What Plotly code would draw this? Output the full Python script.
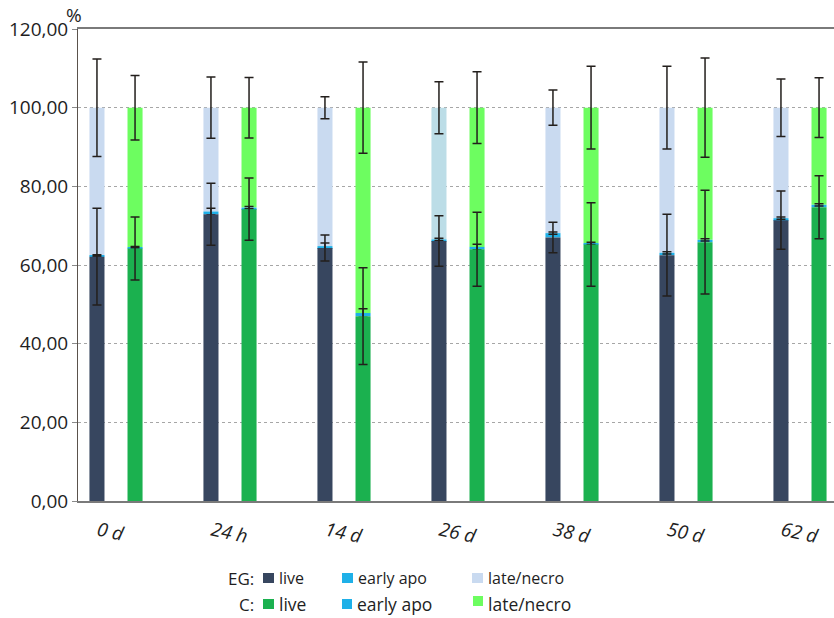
import plotly.graph_objects as go

# Time points
categories = ["0 d", "24 h", "14 d", "26 d", "38 d", "50 d", "62 d"]

# EG group (%)
eg_live = [62.1, 72.9, 64.3, 66.1, 67.0, 62.5, 71.4]
eg_early = [0.3, 0.7, 0.5, 0.4, 1.1, 0.6, 0.5]
eg_late = [37.6, 26.4, 35.2, 33.5, 31.9, 36.9, 28.1]
eg_live_sd = [12.3, 7.9, 3.3, 6.4, 3.9, 10.4, 7.4]
eg_early_sd = [0.2, 0.8, 0.8, 0.3, 0.3, 0.3, 0.3]
eg_late_sd = [12.4, 7.8, 2.8, 6.6, 4.5, 10.5, 7.3]

# C group (%)
c_live = [64.2, 74.2, 47.0, 64.0, 65.2, 65.8, 74.7]
c_early = [0.3, 0.4, 0.8, 0.6, 0.3, 0.6, 0.6]
c_late = [35.5, 25.4, 52.2, 35.4, 34.5, 33.6, 24.7]
c_live_sd = [8.0, 7.9, 12.3, 9.4, 10.6, 13.2, 8.0]
c_early_sd = [0.2, 0.3, 1.1, 0.7, 0.3, 0.3, 0.3]
c_late_sd = [8.2, 7.7, 11.6, 9.1, 10.5, 12.6, 7.6]

y_ticks = [0, 20, 40, 60, 80, 100, 120]

# Colours
EG_LIVE = "#37465f"
EARLY = "#1fb0e8"
EG_LATE = "#c9daf0"
EG_LATE_26 = "#bcdde7"
C_LIVE = "#1bb14f"
C_LATE = "#6dfd60"
ERR = "#231f1c"
TXT = "#1e1e1e"

FONT = "Open Sans"
BAR_W = 0.132
EG_OFF = -0.167 - BAR_W / 2
C_OFF = 0.167 - BAR_W / 2

eg_late_colors = [EG_LATE_26 if c == "26 d" else EG_LATE for c in categories]


def err(arr):
    return dict(type="data", array=arr, visible=True, color=ERR,
                thickness=1.5, width=4.5)


def add_stack(fig, live, early, late, live_sd, early_sd, late_sd,
              live_col, late_col, offset, name):
    base_early = [a for a in live]
    base_late = [a + b for a, b in zip(live, early)]
    # drawn top-down so the live error bars stay visible over the upper segments
    fig.add_trace(go.Bar(x=categories, y=late, base=base_late, offset=offset,
                         width=BAR_W, marker=dict(color=late_col, line_width=0),
                         error_y=err(late_sd), name=name + " late/necro",
                         showlegend=False))
    fig.add_trace(go.Bar(x=categories, y=early, base=base_early, offset=offset,
                         width=BAR_W, marker=dict(color=EARLY, line_width=0),
                         error_y=err(early_sd), name=name + " early apo",
                         showlegend=False))
    fig.add_trace(go.Bar(x=categories, y=live, offset=offset,
                         width=BAR_W, marker=dict(color=live_col, line_width=0),
                         error_y=err(live_sd), name=name + " live",
                         showlegend=False))


fig = go.Figure()
add_stack(fig, eg_live, eg_early, eg_late, eg_live_sd, eg_early_sd, eg_late_sd,
          EG_LIVE, eg_late_colors, EG_OFF, "EG")
add_stack(fig, c_live, c_early, c_late, c_live_sd, c_early_sd, c_late_sd,
          C_LIVE, C_LATE, C_OFF, "C")

W, H = 834, 618
L, R, T, B = 78, 0, 29, 117
PW, PH = W - L - R, H - T - B


def px(x):
    return (x - L) / PW


def py(y):
    return (H - B - y) / PH


shapes = []
annotations = []

# Custom two-row key
key_rows = [
    ("EG:", 578, 16, [(263, 274, 573, 583, EG_LIVE, "live"),
                      (342, 353, 573, 583, EARLY, "early apo"),
                      (472, 483, 573, 583, EG_LATE, "late/necro")]),
    ("C:", 604, 17.5, [(263, 274, 599, 609, C_LIVE, "live"),
                       (342, 352, 599, 609, EARLY, "early apo"),
                       (473, 483, 596, 606, C_LATE, "late/necro")]),
]
for title, yc, fs, items in key_rows:
    annotations.append(dict(x=px(256), y=py(yc), xref="paper", yref="paper",
                            text=title, showarrow=False, xanchor="right",
                            yanchor="middle",
                            font=dict(family=FONT, size=17, color=TXT)))
    for x0, x1, y0, y1, col, lab in items:
        shapes.append(dict(type="rect", xref="paper", yref="paper",
                           x0=px(x0), x1=px(x1), y0=py(y1), y1=py(y0),
                           fillcolor=col, line_width=0))
        annotations.append(dict(x=px(x1 + 3), y=py(yc), xref="paper",
                                yref="paper", text=lab, showarrow=False,
                                xanchor="left", yanchor="middle",
                                font=dict(family=FONT, size=fs, color=TXT)))

annotations.append(dict(x=px(74), y=py(15), xref="paper", yref="paper",
                        text="%", showarrow=False, xanchor="center",
                        yanchor="middle",
                        font=dict(family=FONT, size=19, color=TXT)))

fig.update_layout(
    width=W, height=H,
    margin=dict(l=L, r=R, t=T, b=B),
    paper_bgcolor="white", plot_bgcolor="white",
    barmode="overlay",
    separators=",.",
    showlegend=False,
    shapes=shapes,
    annotations=annotations,
    font=dict(family=FONT, size=16, color=TXT),
)
fig.update_xaxes(
    type="category",
    range=[-(116 - L) / 114, (W - 116) / 114],
    showline=True, linecolor="#7a7a7a", linewidth=1.5, mirror=True,
    showgrid=False, ticks="", ticklabelstandoff=10, ticklabelshift=-18,
    tickangle=12,
    tickfont=dict(family=FONT, size=19, style="italic", color=TXT),
)
fig.update_yaxes(
    range=[0, 120], tickvals=y_ticks, tickformat=".2f",
    showgrid=True, gridcolor="#a6a6a6", griddash="dot", gridwidth=1,
    zeroline=False,
    showline=True, linecolor="#5a524c", linewidth=1,
    ticks="outside", ticklen=5, tickcolor="#8a8a8a",
    tickfont=dict(family=FONT, size=19, color=TXT),
)

fig.write_html("out.html")
